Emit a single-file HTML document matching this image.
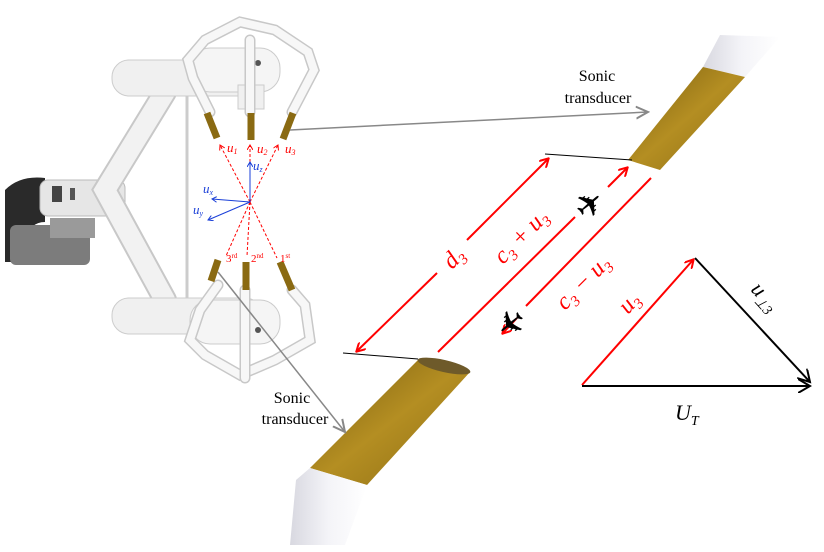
<!DOCTYPE html>
<html><head><meta charset="utf-8"><style>
html,body{margin:0;padding:0;background:#fff}
svg{display:block}
text{font-family:"Liberation Serif",serif}
</style></head><body>
<svg width="824" height="552" viewBox="0 0 824 552" xmlns="http://www.w3.org/2000/svg">
<defs>
<marker id="ar" markerWidth="10" markerHeight="10" refX="8" refY="5" orient="auto" markerUnits="userSpaceOnUse"><path d="M0,0 L9,5 L0,10" fill="none" stroke="red" stroke-width="2"/></marker>
<marker id="ab" markerWidth="14" markerHeight="14" refX="12" refY="7" orient="auto" markerUnits="userSpaceOnUse"><path d="M0,0 L12,7 L0,14" fill="none" stroke="#000" stroke-width="2"/></marker>
<marker id="ag" markerWidth="14" markerHeight="14" refX="12" refY="7" orient="auto" markerUnits="userSpaceOnUse"><path d="M0,1 L12,7 L0,13" fill="none" stroke="#888" stroke-width="2"/></marker>
<marker id="asr" markerWidth="6" markerHeight="6" refX="5" refY="3" orient="auto" markerUnits="userSpaceOnUse"><path d="M0,0 L5,3 L0,6" fill="none" stroke="red" stroke-width="1"/></marker>
<marker id="asb" markerWidth="6" markerHeight="6" refX="5" refY="3" orient="auto" markerUnits="userSpaceOnUse"><path d="M0,0 L5,3 L0,6" fill="none" stroke="#1a3fd8" stroke-width="1"/></marker>
<linearGradient id="gold" x1="0" y1="0" x2="1" y2="1"><stop offset="0" stop-color="#7a5e10"/><stop offset="0.5" stop-color="#b48e22"/><stop offset="1" stop-color="#8d6d14"/></linearGradient>
<linearGradient id="wh" x1="0" y1="0" x2="1" y2="0"><stop offset="0" stop-color="#d8d8e0"/><stop offset="0.5" stop-color="#f4f4f8"/><stop offset="1" stop-color="#fff"/></linearGradient>
</defs>

<!-- instrument -->
<g stroke-linecap="round" fill="none">
 <path d="M5,190 Q20,175 45,178 L45,222 Q30,222 25,240 L25,262 L5,262 Z" fill="#2a2a2a" stroke="none"/>
 <rect x="10" y="225" width="80" height="40" rx="6" fill="#7c7c7c"/>
 <rect x="50" y="218" width="45" height="20" fill="#9a9a9a"/>
 <rect x="40" y="180" width="85" height="36" rx="8" fill="#e6e6e6" stroke="#bbb"/>
 <rect x="52" y="186" width="10" height="16" fill="#444"/>
 <rect x="70" y="188" width="5" height="12" fill="#555"/>
 <path d="M165,92 L105,190 L165,300" stroke="#c8c8c8" stroke-width="24"/>
 <path d="M165,92 L105,190 L165,300" stroke="#f2f2f2" stroke-width="20"/>
 <line x1="187" y1="90" x2="187" y2="305" stroke="#ccc" stroke-width="3"/>
 <rect x="112" y="60" width="150" height="36" rx="17" fill="#f0f0f0" stroke="#ccc"/>
 <rect x="112" y="298" width="150" height="36" rx="17" fill="#f0f0f0" stroke="#ccc"/>
 <rect x="190" y="48" width="90" height="44" rx="20" fill="#f5f5f5" stroke="#ccc"/>
 <rect x="190" y="300" width="90" height="44" rx="20" fill="#f5f5f5" stroke="#ccc"/>
 <rect x="238" y="85" width="26" height="24" fill="#f0f0f0" stroke="#ccc"/>
 <circle cx="258" cy="63" r="3" fill="#555"/><circle cx="258" cy="330" r="3" fill="#555"/>
 <path d="M210,112 L193,78 L188,60 L205,40 L240,22 L275,30 L308,52 L314,70 L292,112" stroke="#c8c8c8" stroke-width="11"/>
 <path d="M210,112 L193,78 L188,60 L205,40 L240,22 L275,30 L308,52 L314,70 L292,112" stroke="#f7f7f7" stroke-width="8"/>
 <path d="M250,112 L250,40" stroke="#c8c8c8" stroke-width="11"/><path d="M250,112 L250,40" stroke="#f7f7f7" stroke-width="8"/>
 <path d="M218,285 L200,310 L190,340 L205,355 L240,375 L275,360 L310,340 L305,305 L292,290" stroke="#c8c8c8" stroke-width="11"/>
 <path d="M218,285 L200,310 L190,340 L205,355 L240,375 L275,360 L310,340 L305,305 L292,290" stroke="#f7f7f7" stroke-width="8"/>
 <path d="M245,290 L245,378" stroke="#c8c8c8" stroke-width="11"/><path d="M245,290 L245,378" stroke="#f7f7f7" stroke-width="8"/>
 <g stroke="#8a6a12" stroke-width="7" stroke-linecap="butt">
  <line x1="207" y1="113" x2="217" y2="138"/><line x1="251" y1="113" x2="251" y2="140"/><line x1="293" y1="113" x2="283" y2="139"/>
  <line x1="218" y1="260" x2="211" y2="281"/><line x1="246" y1="262" x2="246" y2="290"/><line x1="280" y1="262" x2="292" y2="290"/>
 </g>
</g>
<g stroke="red" stroke-width="1" stroke-dasharray="3,2" fill="none">
 <line x1="250" y1="202" x2="220" y2="145" marker-end="url(#asr)"/>
 <line x1="250" y1="202" x2="250" y2="145" marker-end="url(#asr)"/>
 <line x1="250" y1="202" x2="278" y2="145" marker-end="url(#asr)"/>
 <line x1="250" y1="202" x2="226" y2="256"/>
 <line x1="250" y1="202" x2="247" y2="256"/>
 <line x1="250" y1="202" x2="277" y2="258"/>
</g>
<g stroke="#1a3fd8" stroke-width="1" fill="none">
 <line x1="250" y1="202" x2="250" y2="162" marker-end="url(#asb)"/>
 <line x1="250" y1="202" x2="212" y2="199" marker-end="url(#asb)"/>
 <line x1="250" y1="202" x2="208" y2="220" marker-end="url(#asb)"/>
</g>
<g font-style="italic" font-size="13" fill="red">
 <text x="227" y="152">u<tspan font-size="8" dy="2">1</tspan></text>
 <text x="257" y="153">u<tspan font-size="8" dy="2">2</tspan></text>
 <text x="285" y="153">u<tspan font-size="8" dy="2">3</tspan></text>
</g>
<g font-size="11" fill="red">
 <text x="226" y="262">3<tspan font-size="7" dy="-4">rd</tspan></text>
 <text x="251" y="262">2<tspan font-size="7" dy="-4">nd</tspan></text>
 <text x="280" y="262">1<tspan font-size="7" dy="-4">st</tspan></text>
</g>
<g font-style="italic" font-size="13" fill="#1a3fd8">
 <text x="253" y="170">u<tspan font-size="8" dy="2">z</tspan></text>
 <text x="203" y="193">u<tspan font-size="8" dy="2">x</tspan></text>
 <text x="193" y="214">u<tspan font-size="8" dy="2">y</tspan></text>
</g>

<path d="M720,35 L780,37 L745,77 L703,67 Z" fill="url(#wh)"/>
<path d="M703,67 L745,77 L660,170 L628,160 Z" fill="url(#gold)"/>
<path d="M418,360 L470,372 L367,485 L310,468 Z" fill="url(#gold)"/>
<ellipse cx="444" cy="366" rx="27" ry="6" transform="rotate(13 444 366)" fill="#6e5a2a"/>
<path d="M310,468 L367,485 L345,545 L290,545 L296,480 Z" fill="url(#wh)"/>

<line x1="290" y1="130" x2="648" y2="112" stroke="#888" stroke-width="1.5" marker-end="url(#ag)"/>
<line x1="218" y1="272" x2="345" y2="432" stroke="#888" stroke-width="1.5" marker-end="url(#ag)"/>
<g font-size="16" fill="#000" text-anchor="middle">
 <text x="597" y="81">Sonic</text><text x="598" y="103">transducer</text>
 <text x="292" y="403">Sonic</text><text x="295" y="424">transducer</text>
</g>

<line x1="545" y1="154" x2="632" y2="160" stroke="#000" stroke-width="1"/>
<line x1="343" y1="353" x2="418" y2="359" stroke="#000" stroke-width="1"/>

<g stroke="red" stroke-width="2" fill="none">
 <line x1="437" y1="273" x2="357" y2="351" marker-end="url(#ar)"/>
 <line x1="467" y1="240" x2="548" y2="159" marker-end="url(#ar)"/>
 <line x1="438" y1="352" x2="575" y2="217"/>
 <line x1="608" y1="187" x2="627" y2="168" marker-end="url(#ar)"/>
 <line x1="651" y1="178" x2="526" y2="306"/>
 <line x1="517" y1="318" x2="503" y2="333" marker-end="url(#ar)"/>
 <line x1="582" y1="385" x2="693" y2="260" marker-end="url(#ar)"/>
</g>
<g fill="red" font-style="italic" font-size="24">
 <text transform="translate(452,270) rotate(-45)">d<tspan font-size="15" dy="5">3</tspan></text>
 <text transform="translate(503,265) rotate(-45)">c<tspan font-size="15" dy="5">3</tspan><tspan dy="-5"> + u</tspan><tspan font-size="15" dy="5">3</tspan></text>
 <text transform="translate(565,311) rotate(-45)">c<tspan font-size="15" dy="5">3</tspan><tspan dy="-5"> − u</tspan><tspan font-size="15" dy="5">3</tspan></text>
 <text transform="translate(628,315) rotate(-48)">u<tspan font-size="15" dy="5">3</tspan></text>
</g>
<text x="590" y="216" font-size="34" fill="#000" text-anchor="middle" transform="rotate(-40 590 205)" font-family="DejaVu Sans">✈</text>
<text x="510" y="333" font-size="34" fill="#000" text-anchor="middle" transform="rotate(140 510 322)" font-family="DejaVu Sans">✈</text>

<line x1="695" y1="258" x2="810" y2="382" stroke="#000" stroke-width="2" marker-end="url(#ab)"/>
<line x1="582" y1="386" x2="810" y2="386" stroke="#000" stroke-width="2" marker-end="url(#ab)"/>
<text transform="translate(750,290) rotate(48)" font-size="22" font-style="italic" fill="#000">u<tspan font-size="14" dy="5">⊥3</tspan></text>
<text x="675" y="420" font-size="22" font-style="italic" fill="#000">U<tspan font-size="14" dy="5">T</tspan></text>
</svg>
</body></html>
